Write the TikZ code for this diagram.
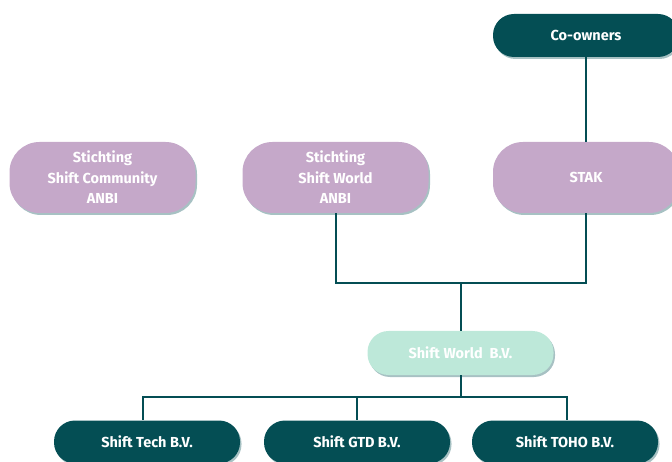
\documentclass[tikz,border=0pt]{standalone}
\usepackage{fontspec}
\setmainfont{Fira Sans}
\usetikzlibrary{positioning,shadows}
\definecolor{shiftteal}{HTML}{044E54}
\definecolor{shiftlilac}{HTML}{C5A8C9}
\definecolor{shiftmint}{HTML}{BDE8D9}
\begin{document}
\begin{tikzpicture}[x=1pt, y=-1pt,
		box/.style = {rectangle, rounded corners=21pt, minimum width=186pt, minimum height=43pt, inner sep=0pt,
			text=white, align=center, font=\bfseries\fontsize{14.5}{20.5}\selectfont,
			drop shadow={shadow xshift=1.5pt, shadow yshift=-2pt, fill=shiftteal, opacity=0.35}},
		dark/.style = {box, fill=shiftteal},
		lilac/.style = {box, fill=shiftlilac, minimum height=71pt, rounded corners=30pt},
		mint/.style = {box, fill=shiftmint, minimum height=44pt},
		link/.style = {draw=shiftteal, line width=2pt}]
		\useasboundingbox (0,0) rectangle (672,462);
		%% NODES
		% Top
		\node[dark] (owners) at (586,35.5) {Co-owners};
		% Foundations
		\node[lilac] (stak) at (586,177.5) {STAK};
		\node[lilac] (anbi1) at (102.5,177.5) {Stichting\\Shift Community\\ANBI};
		\node[lilac] (anbi2) at (335.5,177.5) {Stichting\\Shift World\\ANBI};
		% Holding
		\node[mint] (bv) at (460.5,353) {Shift World\ \ B.V.};
		% Subsidiaries
		\node[dark] (tech) at (147,442) {Shift Tech B.V.};
		\node[dark] (gtd) at (357,442) {Shift GTD B.V.};
		\node[dark] (toho) at (565,442) {Shift TOHO B.V.};
		% Joints
		\coordinate (upjoin) at (460.5,283);
		\coordinate (downjoin) at (460.5,397);
		%% LINKS
		\draw[link] (owners) -- (stak);
		\draw[link] (anbi2.south) |- (upjoin) -| (stak.south);
		\draw[link] (upjoin) -- (bv.north);
		\draw[link] (bv.south) -- (downjoin);
		\draw[link] (downjoin) -| ([xshift=-4pt]tech.north);
		\draw[link] (downjoin) -| (gtd.north);
		\draw[link] (downjoin) -| ([xshift=2pt]toho.north);
\end{tikzpicture}
\end{document}
